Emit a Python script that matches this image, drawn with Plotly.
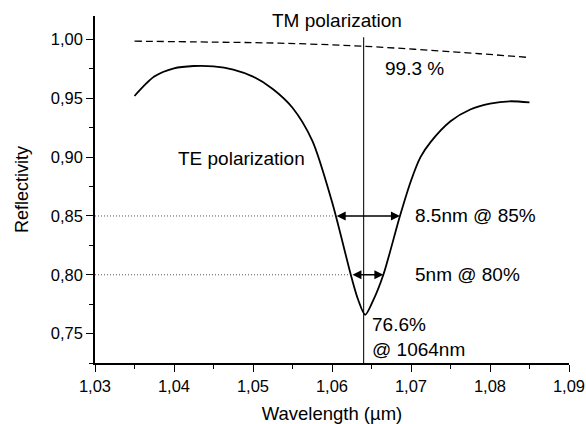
import plotly.graph_objects as go

# ---- data ----
te_wl = [1.035, 1.0375, 1.040, 1.0425, 1.045, 1.0475, 1.050, 1.0525, 1.055, 1.0575,
         1.060, 1.0625, 1.0633, 1.0642, 1.0652, 1.0665, 1.0686, 1.070, 1.0712,
         1.0725, 1.075, 1.0775, 1.080, 1.0825, 1.085]
te_refl = [0.952, 0.9685, 0.9755, 0.9775, 0.9772, 0.9745, 0.9685, 0.958, 0.942, 0.914,
           0.862, 0.797, 0.779, 0.766, 0.778, 0.800, 0.850, 0.880, 0.900,
           0.913, 0.9305, 0.9405, 0.9455, 0.9475, 0.9465]

tm_wl = [1.035, 1.045, 1.0534, 1.064, 1.0787, 1.085]
tm_refl = [0.9986, 0.9978, 0.9969, 0.9943, 0.9879, 0.9847]

levels = [0.85, 0.80]
left_cross = [1.0604, 1.0624]
right_cross = [1.0686, 1.0665]
level_labels = ["8.5nm @ 85%", "5nm @ 80%"]

center_wl = 1.064
x_range = [1.03, 1.09]
y_range = [0.725, 1.02]

x_ticks = [1.03, 1.04, 1.05, 1.06, 1.07, 1.08, 1.09]
x_ticktext = ["1,03", "1,04", "1,05", "1,06", "1,07", "1,08", "1,09"]
y_ticks = [0.75, 0.80, 0.85, 0.90, 0.95, 1.00]
y_ticktext = ["0,75", "0,80", "0,85", "0,90", "0,95", "1,00"]

FONT = "Liberation Sans, Arial, Helvetica, sans-serif"
ANN = 19

fig = go.Figure()

# dotted guide lines
for lv, lc in zip(levels, left_cross):
    fig.add_trace(go.Scatter(x=[x_range[0], lc], y=[lv, lv], mode="lines",
                             line=dict(color="#555555", width=1, dash="1px,2px"),
                             hoverinfo="skip", showlegend=False))

# vertical line at 1064 nm
fig.add_trace(go.Scatter(x=[center_wl, center_wl], y=[y_range[0], 1.002], mode="lines",
                         line=dict(color="#222222", width=1.2), showlegend=False))

# TM dashed
fig.add_trace(go.Scatter(x=tm_wl, y=tm_refl, mode="lines", line_shape="spline",
                         line=dict(color="black", width=1.3, dash="7px,4px"),
                         showlegend=False))
# TE solid
fig.add_trace(go.Scatter(x=te_wl, y=te_refl, mode="lines",
                         line=dict(color="black", width=1.8, shape="spline", smoothing=0.8),
                         showlegend=False))

# double arrows
for lv, lc, rc, lab in zip(levels, left_cross, right_cross, level_labels):
    fig.add_annotation(x=rc, y=lv, ax=lc, ay=lv, axref="x", ayref="y", xref="x", yref="y",
                       text="", showarrow=True, arrowside="end+start",
                       arrowhead=2, startarrowhead=2, arrowsize=1.2, startarrowsize=1.2,
                       arrowwidth=1.5, arrowcolor="black", standoff=0, startstandoff=0)
    fig.add_annotation(x=1.0703, y=lv, text=lab, showarrow=False, xanchor="left",
                       yanchor="middle", font=dict(size=ANN, color="black", family=FONT))

fig.add_annotation(x=1.0606, y=1.0165, text="TM polarization", showarrow=False,
                   xanchor="center", yanchor="middle",
                   font=dict(size=ANN, color="black", family=FONT))
fig.add_annotation(x=1.0705, y=0.9752, text="99.3 %", showarrow=False,
                   xanchor="center", yanchor="middle",
                   font=dict(size=ANN, color="black", family=FONT))
fig.add_annotation(x=1.0485, y=0.899, text="TE polarization", showarrow=False,
                   xanchor="center", yanchor="middle",
                   font=dict(size=ANN, color="black", family=FONT))
fig.add_annotation(x=1.0648, y=0.7475, text="76.6%<br>@ 1064nm", showarrow=False,
                   xanchor="left", yanchor="middle", align="left",
                   font=dict(size=ANN, color="black", family=FONT))

fig.update_layout(
    width=586, height=424,
    margin=dict(l=95, r=17, t=16, b=61, autoexpand=False),
    paper_bgcolor="white", plot_bgcolor="white",
    font=dict(family=FONT, color="black"),
    showlegend=False,
)
fig.update_xaxes(
    range=x_range, tickvals=x_ticks, ticktext=x_ticktext, automargin=False,
    showgrid=False, zeroline=False, showline=True, linecolor="black", linewidth=1.5,
    ticks="outside", ticklen=7, tickwidth=1.2, tickcolor="black",
    tickfont=dict(size=16.5, family=FONT),
    minor=dict(dtick=0.005, tick0=1.03, ticks="outside", ticklen=4, tickwidth=1, tickcolor="black"),
    title=dict(text="Wavelength (µm)", font=dict(size=18.5, family=FONT), standoff=15),
)
fig.update_yaxes(
    range=y_range, tickvals=y_ticks, ticktext=y_ticktext, automargin=False,
    showgrid=False, zeroline=False, showline=True, linecolor="black", linewidth=1.5,
    ticks="outside", ticklen=7, tickwidth=1.2, tickcolor="black",
    tickfont=dict(size=16.5, family=FONT),
    minor=dict(dtick=0.025, tick0=0.75, ticks="outside", ticklen=4, tickwidth=1, tickcolor="black"),
    title=dict(text="Reflectivity", font=dict(size=18, family=FONT), standoff=18),
)

fig.write_html(
    "out.html",
    config={"displayModeBar": False},
    post_script="document.body.style.margin='0';document.body.style.padding='0';"
                "document.body.style.overflow='hidden';",
)
